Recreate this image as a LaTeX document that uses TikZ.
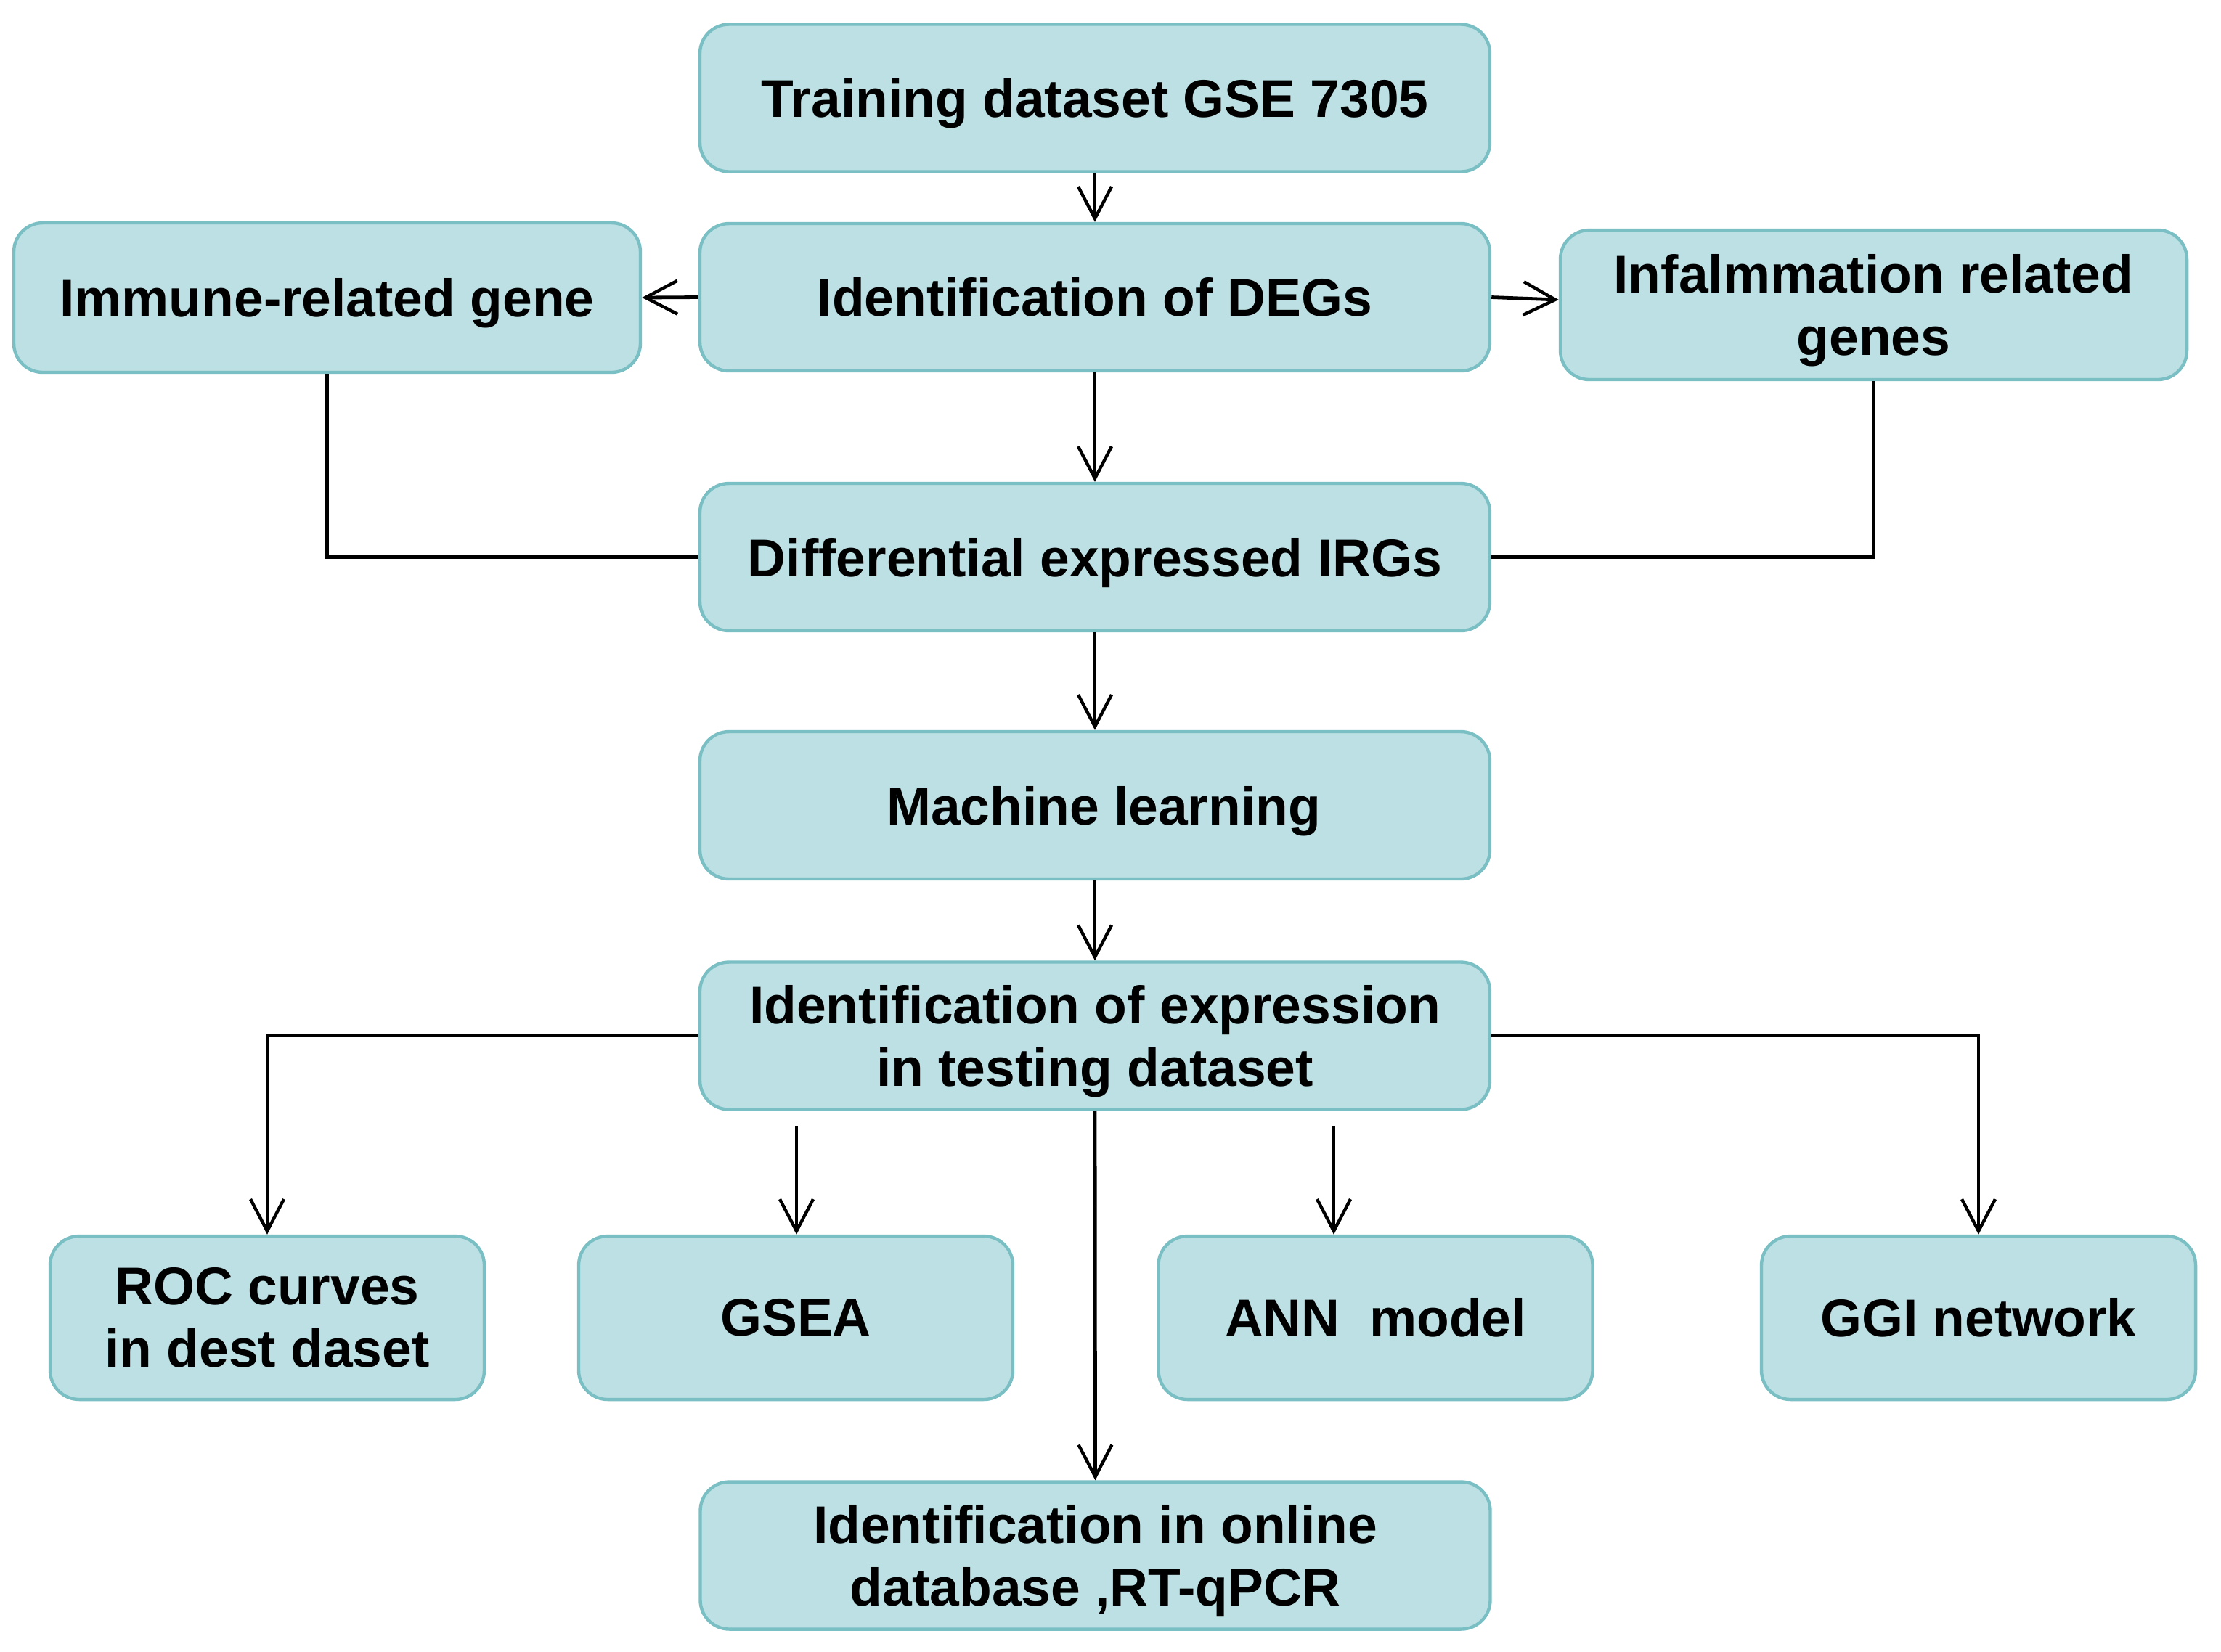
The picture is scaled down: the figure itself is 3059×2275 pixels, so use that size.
\documentclass[tikz,border=0pt]{standalone}
\usepackage{fontspec}
\setmainfont{Liberation Sans}
\usetikzlibrary{arrows.meta}
\definecolor{boxfill}{HTML}{BCE0E3}
\definecolor{boxline}{HTML}{7ABFC3}
\begin{document}
\begin{tikzpicture}[x=0.25pt,y=-0.25pt,
  box/.style={draw=boxline,fill=boxfill,line width=1.1pt,rounded corners=10pt,
    inner sep=0pt,align=center,font=\fontsize{18.3}{21.5}\selectfont\bfseries},
  txt/.style={inner sep=0pt,align=center,font=\fontsize{18.3}{21.5}\selectfont\bfseries,yshift=-2pt},
  widebox/.style={box,minimum width=272pt,minimum height=50.75pt},
  wide/.style={widebox,label={[txt]center:#1}},
  wider/.style={widebox,label={[txt,xshift=3pt]center:#1}},
  small/.style={box,minimum width=149.5pt,minimum height=56.25pt},
  side/.style={box,minimum width=215.75pt,minimum height=51.5pt,label={[txt]center:#1}},
  conn/.style={line width=1.2pt,black},
  arr/.style={conn,-{Straight Barb[length=11pt,width=11.5pt,line width=1.1pt]}}]
\useasboundingbox (0,0) rectangle (3059,2275);
\node[wide={Training dataset GSE 7305}] (train) at (1508,135) {};
\node[widebox] (degs) at (1508,409.5) {Identification of DEGs};
\node[side={Immune-related gene}] (immune) at (450.5,410) {};
\node[side={Infalmmation related\\genes}] (infl) at (2580.5,420) {};
\node[wide={Differential expressed IRGs}] (irgs) at (1508,767.5) {};
\node[wider={Machine learning}] (ml) at (1508,1109.5) {};
\node[wide={Identification of expression\\in testing dataset}] (expr) at (1508,1427) {};
\node[small] (roc) at (368,1815.5) {ROC curves\\in dest daset};
\node[small] (gsea) at (1096,1815.5) {GSEA};
\node[small] (ann) at (1894.5,1815.5) {ANN~~model};
\node[small] (ggi) at (2725,1815.5) {GGI network};
\node[wide={Identification in online\\database ,RT-qPCR}] (online) at (1508.5,2143) {};
\coordinate (gs) at (1097,1551);
\coordinate (an) at (1837,1551);
\draw[arr] (train) -- (degs);
\draw[arr] (degs.west) -- (immune.east);
\draw[arr] (degs.east) -- ([yshift=1.75pt]infl.west);
\draw[arr] (degs) -- (irgs);
\draw[conn] (immune.south) |- (irgs.west);
\draw[conn] (infl.south) |- (irgs.east);
\draw[arr] (irgs) -- (ml);
\draw[arr] (ml) -- (expr);
\draw[arr] (expr.west) -| (roc.north);
\draw[arr] (expr.east) -| (ggi.north);
\draw[arr] (expr.south) -- (online.north);
\draw[arr] (gs) -- (gs |- gsea.north);
\draw[arr] (an) -- (an |- ann.north);
\end{tikzpicture}
\end{document}
